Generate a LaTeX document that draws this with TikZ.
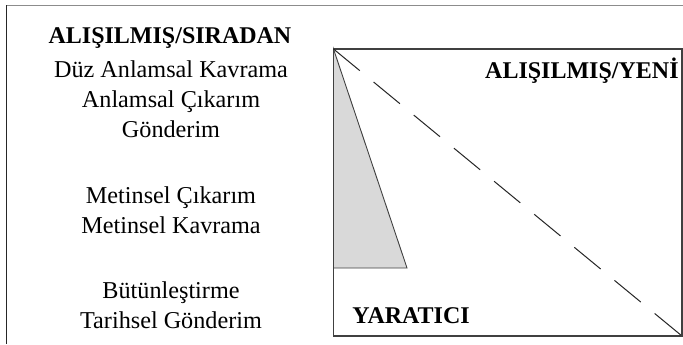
\documentclass[tikz,border=0pt]{standalone}
\usepackage{fontspec}
\setmainfont{Liberation Serif}
\usepackage{tikz}
\usetikzlibrary{positioning}

\begin{document}
\begin{tikzpicture}[
		x=0.5pt, y=-0.5pt,
		item/.style={font=\fontsize{12.1}{14}\selectfont, inner sep=0pt, anchor=base},
		head/.style={font=\fontsize{12}{14}\selectfont\bfseries, inner sep=0pt, anchor=base},
		frame/.style={line width=0.9pt},
		quad/.style={draw=black!75, line width=0.55pt}
		]
		\useasboundingbox (0,0) rectangle (683,344);
		
		% --------------------------------------------------
		% Outer frame
		% --------------------------------------------------
		\draw[frame, black!45] (6,5.5) -- (683,5.5);
		\draw[frame, black!85] (6.5,5) -- (6.5,344);
		
		% --------------------------------------------------
		% LEFT: list of levels
		% --------------------------------------------------
		\node[head] (ord) at (170,43) {ALIŞILMIŞ/SIRADAN};
		\node[item] (duz) at (171,77) {Düz Anlamsal Kavrama};
		\node[item] (cik) at (171,107) {Anlamsal Çıkarım};
		\node[item] (gon) at (171,137) {Gönderim};
		
		\node[item] (mcik) at (171,203) {Metinsel Çıkarım};
		\node[item] (mkav) at (171,233) {Metinsel Kavrama};
		
		\node[item] (but) at (171,298) {Bütünleştirme};
		\node[item] (tar) at (171,328) {Tarihsel Gönderim};
		
		% --------------------------------------------------
		% RIGHT: square with wedge and diagonal
		% --------------------------------------------------
		\coordinate (tl) at (333.5,49);
		\coordinate (br) at (682,336);
		\coordinate (wb) at (333.5,268);
		\coordinate (wr) at (407,268);
		
		\filldraw[fill=black!15, draw=black!75, line width=0.45pt] (tl) -- (wr) -- (wb) -- cycle;
		\draw[quad] (tl) rectangle (br);
		\draw[black!85, line width=0.5pt, dash pattern=on 17pt off 9pt] (tl) -- (br);
		
		\node[head, anchor=base east] (yeni) at (679,78) {ALIŞILMIŞ/YENİ};
		\node[head, anchor=base west] (yar) at (352,323) {YARATICI};
		
	\end{tikzpicture}
\end{document}
